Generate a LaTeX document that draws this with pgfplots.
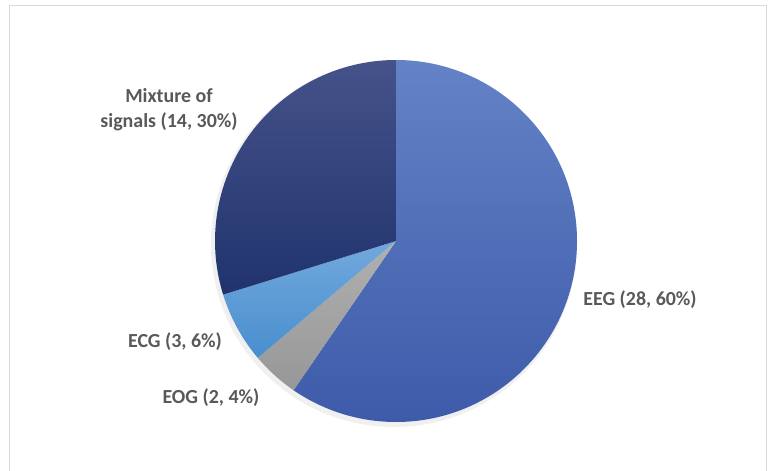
\documentclass[border=0pt]{standalone}
\usepackage{pgfplots}
\pgfplotsset{compat=1.18}
\usepackage{pgfplotstable}
\usepackage{fontspec}
\setmainfont{Carlito}
\definecolor{lbl}{HTML}{595959}
\definecolor{eegT}{HTML}{6482C6}
\definecolor{eegB}{HTML}{3D5BA9}
\definecolor{mixT}{HTML}{46528A}
\definecolor{mixB}{HTML}{20336D}
\definecolor{ecgT}{HTML}{72A9DC}
\definecolor{ecgB}{HTML}{488ECF}
\definecolor{eogT}{HTML}{B0B0B0}
\definecolor{eogB}{HTML}{979797}
\definecolor{frame}{HTML}{D9D9D9}

% slice values (clockwise from 12 o'clock)
\pgfplotstableread{
label value
EEG 28
EOG 2
ECG 3
Mixture 14
}\piedata

\pgfplotstablegetelem{0}{value}\of\piedata \let\vA\pgfplotsretval
\pgfplotstablegetelem{1}{value}\of\piedata \let\vB\pgfplotsretval
\pgfplotstablegetelem{2}{value}\of\piedata \let\vC\pgfplotsretval
\pgfplotstablegetelem{3}{value}\of\piedata \let\vD\pgfplotsretval
\pgfmathsetmacro\tot{\vA+\vB+\vC+\vD}
\pgfmathsetmacro\aA{90}
\pgfmathsetmacro\aB{\aA-360*\vA/\tot}
\pgfmathsetmacro\aC{\aB-360*\vB/\tot}
\pgfmathsetmacro\aD{\aC-360*\vC/\tot}
\pgfmathsetmacro\aE{\aD-360*\vD/\tot}
\def\cx{396}
\def\cy{230}
\def\R{181}

\newcommand\pieslice[4]{% start, end, topcolor, bottomcolor
  \path[top color=#3, bottom color=#4]
    (axis cs:\cx,\cy) -- (axis cs:{\cx+\R*cos(#1)},{\cy+\R*sin(#1)})
    arc[start angle=#1, end angle=#2, radius=\R bp] -- cycle;}

\begin{document}
\begin{tikzpicture}
\begin{axis}[
  width=776bp, height=471bp, scale only axis,
  xmin=0, xmax=776, ymin=0, ymax=471,
  hide axis, clip=false,
]
\draw[frame, line width=1bp] (axis cs:9,0) -- (axis cs:9,465) -- (axis cs:766,465) -- (axis cs:766,0);
% soft shadow
\fill[black!6] (axis cs:{\cx-2},{\cy-3}) circle[radius=\R bp+2bp];
\pieslice{\aA}{\aB}{eegT}{eegB}
\pieslice{\aB}{\aC}{eogT}{eogB}
\pieslice{\aC}{\aD}{ecgT}{ecgB}
\pieslice{\aD}{\aE}{mixT}{mixB}
\begin{scope}[every node/.style={font=\fontsize{20}{25}\selectfont\bfseries, text=lbl, align=center}]
\node at (axis cs:169,361) {Mixture of\\signals (14, 30\%)};
\node at (axis cs:640,171) {EEG (28, 60\%)};
\node at (axis cs:175,129) {ECG (3, 6\%)};
\node at (axis cs:211,73) {EOG (2, 4\%)};
\end{scope}
\end{axis}
\pgfresetboundingbox
\path (current axis.south west) rectangle (current axis.north east);
\end{tikzpicture}
\end{document}
